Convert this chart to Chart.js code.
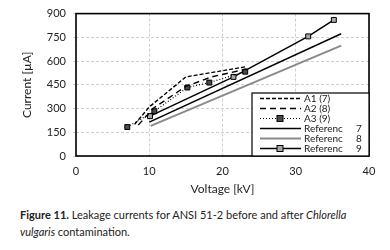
<!DOCTYPE html>
<html>
<head>
<meta charset="utf-8">
<script src="https://cdn.jsdelivr.net/npm/chart.js@4.4.1/dist/chart.umd.min.js"></script>
<style>
  html, body { margin: 0; padding: 0; background: #fff; }
  #wrap { position: relative; width: 390px; height: 250px; overflow: hidden; }
  #chart { position: absolute; left: 0; top: 0; }
  .caption {
    position: absolute; left: 20px; top: 206px; width: 360px;
    font-family: Lato, "Open Sans", sans-serif; font-size: 11px; line-height: 17px; color: #222;
  }
  .caption b { font-weight: 700; }
</style>
</head>
<body>
<div id="wrap">
  <canvas id="chart" width="390" height="200"></canvas>
  <div class="caption"><b>Figure 11.</b> Leakage currents for ANSI 51-2 before and after <i>Chlorella vulgaris</i> contamination.</div>
</div>
<script>
// values (voltage in kV, current in µA)
const a1V = [8, 10, 15, 23.3];
const a1I = [200, 310, 500, 565];
const a2V = [8.5, 10.5, 15, 18.5, 23.3];
const a2I = [195, 300, 440, 500, 550];
const a3V = [7, 10.7, 15.2, 18.2, 23.1];
const a3I = [183, 283, 433, 464, 533];
const ref7V = [10, 36.2];
const ref7I = [214, 773];
const ref8V = [10.2, 36.2];
const ref8I = [190, 698];
const ref9V = [10.1, 21.5, 31.7, 35.2];
const ref9I = [252, 500, 756, 860];

const yTicks = [0, 150, 300, 450, 600, 750, 900];
const xTicks = [0, 10, 20, 30, 40];

const pts = (xs, ys) => xs.map((x, i) => ({ x: x, y: ys[i] }));
const FONT = 'Lato, "Open Sans", sans-serif';

// legend drawn inside the plot, bottom right
const boxLegend = {
    id: 'boxLegend',
    afterDraw(chart) {
        const ctx = chart.ctx;
        const a = chart.chartArea;
        const x0 = 252, y0 = 93, x1 = a.right, y1 = a.bottom;
        ctx.save();
        ctx.fillStyle = '#fff';
        ctx.fillRect(x0, y0, x1 - x0, y1 - y0);
        ctx.strokeStyle = '#000';
        ctx.lineWidth = 1.2;
        ctx.strokeRect(x0, y0, x1 - x0, y1 - y0);
        chart.data.datasets.forEach((ds, i) => {
            const y = 98.5 + i * 10;
            ctx.strokeStyle = ds.borderColor;
            ctx.lineWidth = ds.borderWidth;
            ctx.setLineDash(ds.borderDash || []);
            ctx.beginPath();
            ctx.moveTo(260, y);
            ctx.lineTo(301, y);
            ctx.stroke();
            ctx.setLineDash([]);
            if (ds.pointRadius > 0) {
                ctx.fillStyle = ds.pointBackgroundColor;
                ctx.strokeStyle = '#000';
                ctx.lineWidth = 1;
                ctx.fillRect(277, y - 3, 6, 6);
                ctx.strokeRect(277, y - 3, 6, 6);
            }
            const parts = ds.label.split('\t');
            ctx.fillStyle = '#222';
            ctx.font = '10px ' + FONT;
            ctx.textBaseline = 'middle';
            ctx.textAlign = 'left';
            ctx.fillText(parts[0], 304, y);
            if (parts[1]) ctx.fillText(parts[1], 356, y);
        });
        ctx.restore();
    }
};

// black frame round the plot
const frame = {
    id: 'frame',
    beforeDatasetsDraw(chart) {
        const a = chart.chartArea;
        const ctx = chart.ctx;
        ctx.save();
        ctx.strokeStyle = '#000';
        ctx.lineWidth = 1.6;
        ctx.strokeRect(a.left, a.top, a.right - a.left, a.bottom - a.top);
        ctx.restore();
    }
};

const common = { fill: false, tension: 0, borderColor: '#000', pointRadius: 0 };

new Chart(document.getElementById('chart'), {
    type: 'line',
    data: {
        datasets: [
            { ...common, label: 'A1 (7)', data: pts(a1V, a1I), borderWidth: 1.4, borderDash: [4, 2] },
            { ...common, label: 'A2 (8)', data: pts(a2V, a2I), borderWidth: 1.4, borderDash: [6, 4] },
            { ...common, label: 'A3 (9)', data: pts(a3V, a3I), borderWidth: 1.2, borderDash: [1, 2],
              pointRadius: 3.5, pointStyle: 'rect', pointBackgroundColor: '#4a4a4a', pointBorderColor: '#000', pointBorderWidth: 1 },
            { ...common, label: 'Referenc\t7', data: pts(ref7V, ref7I), borderWidth: 1.5 },
            { ...common, label: 'Referenc\t8', data: pts(ref8V, ref8I), borderWidth: 2, borderColor: '#8a8a8a' },
            { ...common, label: 'Referenc\t9', data: pts(ref9V, ref9I), borderWidth: 1.5,
              pointRadius: 3.5, pointStyle: 'rect', pointBackgroundColor: '#a8a8a8', pointBorderColor: '#000', pointBorderWidth: 1 }
        ]
    },
    options: {
        responsive: false,
        animation: false,
        layout: { padding: { left: 0, right: 21, top: 12, bottom: 0 } },
        plugins: { legend: { display: false }, tooltip: { enabled: false } },
        scales: {
            x: {
                type: 'linear', min: 0, max: 40,
                afterBuildTicks: s => { s.ticks = xTicks.map(v => ({ value: v })); },
                afterFit: s => { s.height = 44; },
                grid: { color: '#cfcfcf', tickLength: 0, drawTicks: false },
                border: { display: false, dash: [3, 2] },
                ticks: { color: '#222', font: { family: FONT, size: 11 }, padding: 9 },
                title: { display: true, text: 'Voltage [kV]', color: '#222', font: { family: FONT, size: 12 }, padding: { top: 2 } }
            },
            y: {
                type: 'linear', min: 0, max: 900,
                afterBuildTicks: s => { s.ticks = yTicks.map(v => ({ value: v })); },
                afterFit: s => { s.width = 76; },
                grid: { color: '#cfcfcf', tickLength: 3 },
                border: { display: false, dash: [3, 2] },
                ticks: { color: '#222', font: { family: FONT, size: 11 }, padding: 7 },
                title: { display: true, text: 'Current [µA]', color: '#222', font: { family: FONT, size: 12 }, padding: { top: 20, bottom: 0 } }
            }
        }
    },
    plugins: [frame, boxLegend]
});
</script>
</body>
</html>
